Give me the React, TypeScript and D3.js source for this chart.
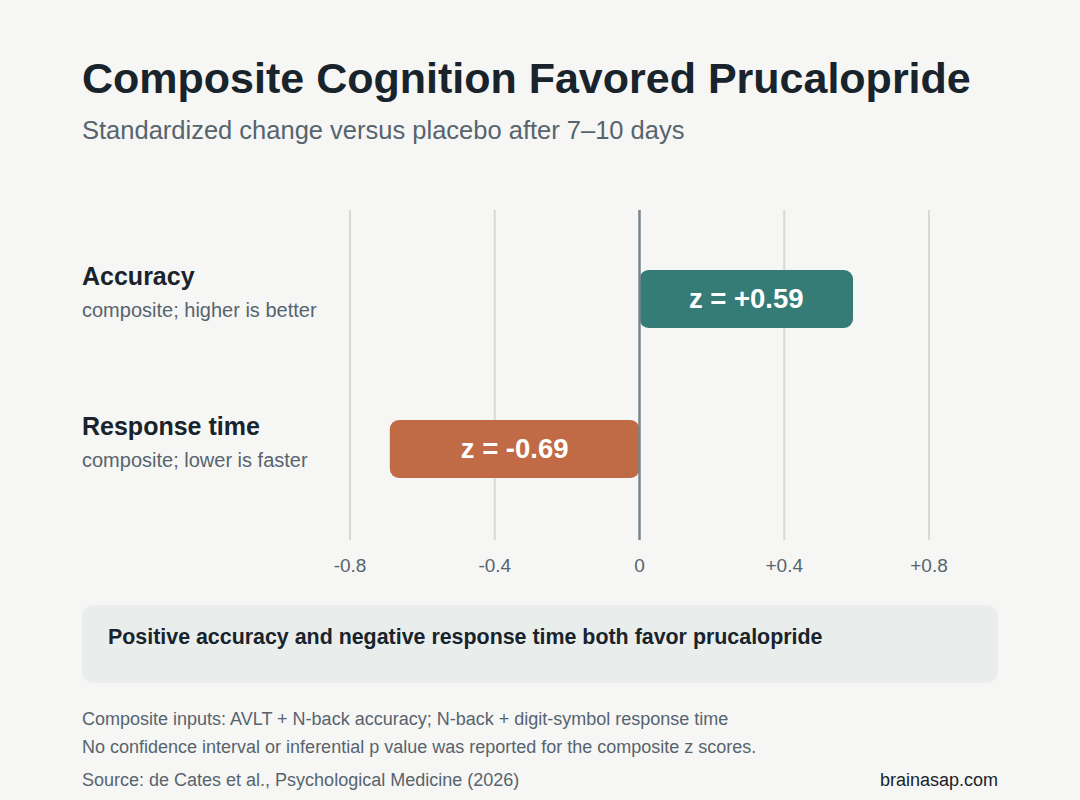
import * as d3 from 'd3';
import { useEffect, useRef } from 'react';

const W = 1080;
const H = 800;
const FONT = '"Liberation Sans", Arial, sans-serif';

const CATEGORIES = ['Accuracy', 'Response time'];
const SUBLABELS = ['composite; higher is better', 'composite; lower is faster'];
const Z_VALUES = [0.59, -0.69];
const BAR_COLORS = ['#357c77', '#c16b46'];
const TICKS = [-0.8, -0.4, 0, 0.4, 0.8];
const TICK_LABELS = ['-0.8', '-0.4', '0', '+0.4', '+0.8'];
const FOOTNOTES = [
  'Composite inputs: AVLT + N-back accuracy; N-back + digit-symbol response time',
  'No confidence interval or inferential p value was reported for the composite z scores.',
];

export default function App() {
  const svgRef = useRef<SVGSVGElement>(null);

  useEffect(() => {
    document.body.style.margin = '0';
    if (!svgRef.current) return;
    const svg = d3.select(svgRef.current);
    svg.selectAll('*').remove();
    svg.attr('width', W).attr('height', H).style('font-family', FONT);

    svg.append('rect').attr('width', W).attr('height', H).attr('fill', '#f6f6f4');

    // Title block
    svg.append('text').attr('x', 82).attr('y', 93)
      .attr('font-size', 43).attr('font-weight', 700).attr('fill', '#18232b')
      .text('Composite Cognition Favored Prucalopride');
    svg.append('text').attr('x', 82).attr('y', 139)
      .attr('font-size', 25.5).attr('fill', '#56646e')
      .text('Standardized change versus placebo after 7\u201310 days');

    // Scales
    const x = d3.scaleLinear().domain([-0.8, 0.8]).range([350, 929]);
    const y = d3.scaleBand<string>().domain(CATEGORIES).range([224, 524]);
    const barH = 58;

    // Gridlines
    const grid = svg.append('g');
    grid.selectAll('line')
      .data(TICKS.filter(t => t !== 0))
      .join('line')
      .attr('x1', d => x(d)).attr('x2', d => x(d))
      .attr('y1', 210).attr('y2', 540)
      .attr('stroke', '#d3dbd8').attr('stroke-width', 2);

    // Bars
    const bars = svg.append('g');
    CATEGORIES.forEach((c, i) => {
      const v = Z_VALUES[i];
      const cy = (y(c) ?? 0) + y.bandwidth() / 2;
      const x0 = Math.min(x(0), x(v));
      const x1 = Math.max(x(0), x(v));
      bars.append('rect')
        .attr('x', x0).attr('y', cy - barH / 2)
        .attr('width', x1 - x0).attr('height', barH)
        .attr('rx', 9).attr('fill', BAR_COLORS[i]);
      bars.append('text')
        .attr('x', (x0 + x1) / 2).attr('y', cy + 9)
        .attr('text-anchor', 'middle')
        .attr('font-size', 27.5).attr('font-weight', 700).attr('fill', '#ffffff')
        .text(`z = ${v > 0 ? '+' : ''}${v.toFixed(2)}`);

      svg.append('text').attr('x', 82).attr('y', cy - 14)
        .attr('font-size', 25).attr('font-weight', 700).attr('fill', '#18232b')
        .text(c);
      svg.append('text').attr('x', 82).attr('y', cy + 18)
        .attr('font-size', 20).attr('fill', '#56646e')
        .text(SUBLABELS[i]);
    });

    // Zero line
    svg.append('line')
      .attr('x1', x(0)).attr('x2', x(0))
      .attr('y1', 210).attr('y2', 540)
      .attr('stroke', '#76868d').attr('stroke-width', 2.5);

    // Tick labels
    svg.append('g').selectAll('text')
      .data(TICKS)
      .join('text')
      .attr('x', d => x(d)).attr('y', 572)
      .attr('text-anchor', 'middle')
      .attr('font-size', 19).attr('fill', '#56646e')
      .text((_, i) => TICK_LABELS[i]);

    // Callout
    svg.append('rect').attr('x', 82).attr('y', 605).attr('width', 916).attr('height', 78)
      .attr('rx', 12).attr('fill', '#e9eeec');
    svg.append('text').attr('x', 108).attr('y', 644)
      .attr('font-size', 21.4).attr('font-weight', 700).attr('fill', '#18232b')
      .text('Positive accuracy and negative response time both favor prucalopride');

    // Footnotes
    FOOTNOTES.forEach((t, i) => {
      svg.append('text').attr('x', 82).attr('y', 725 + i * 28)
        .attr('font-size', 18).attr('fill', '#56646e').text(t);
    });
    svg.append('text').attr('x', 82).attr('y', 786)
      .attr('font-size', 18).attr('fill', '#56646e')
      .text('Source: de Cates et al., Psychological Medicine (2026)');
    svg.append('text').attr('x', 998).attr('y', 786).attr('text-anchor', 'end')
      .attr('font-size', 18).attr('fill', '#18232b')
      .text('brainasap.com');
  }, []);

  return <svg ref={svgRef} style={{ display: 'block' }} />;
}
